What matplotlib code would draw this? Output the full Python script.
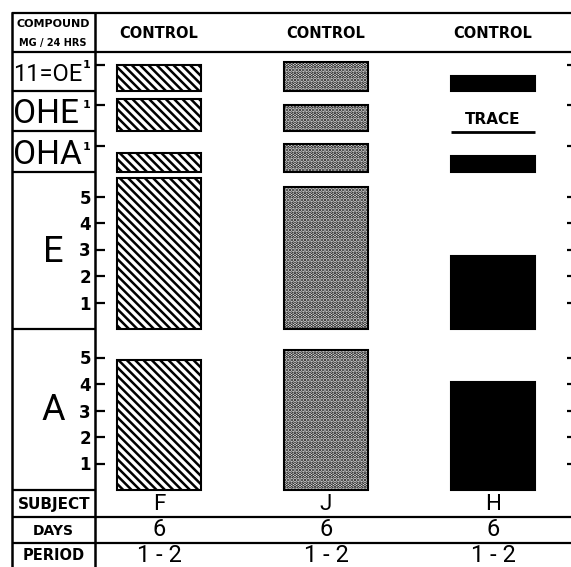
import matplotlib
matplotlib.use('Agg')
import matplotlib.pyplot as plt
import matplotlib.transforms as mtransforms

# columns
subjects = ['F', 'J', 'H']
groups = ['CONTROL', 'CONTROL', 'CONTROL']
days = ['6', '6', '6']
periods = ['1 - 2', '1 - 2', '1 - 2']

# mg / 24 hrs (None = trace)
compounds = ['11=OE', 'OHE', 'OHA', 'E', 'A']
oe11 = [1.0, 1.1, 0.55]
ohe = [1.2, 1.0, None]
oha = [0.7, 1.05, 0.6]
e_vals = [5.7, 5.35, 2.77]
a_vals = [4.9, 5.28, 4.08]
values = [oe11, ohe, oha, e_vals, a_vals]
ticks = [[1], [1], [1], [1, 2, 3, 4, 5], [1, 2, 3, 4, 5]]

plt.rcParams['hatch.linewidth'] = 1.8
BIG = ['Roboto', 'DejaVu Sans']

W, H = 571, 567
fig = plt.figure(figsize=(W / 100, H / 100), dpi=100)

# pixel layout of the table
x_left, x_lab, x_right = 12, 95, 571
row_px = [(52, 91), (91, 131), (131, 172), (172, 329), (329, 490)]
px_per_mg = 26.5
col0, col_step = 159, 167
bar_w = 0.505

bg = fig.add_axes([0, 0, 1, 1])
bg.set_xlim(0, W)
bg.set_ylim(H, 0)
bg.axis('off')

def hline(y, x0, x1):
    bg.plot([x0, x1], [y, y], color='black', lw=1.6, solid_capstyle='butt')

# frame
bg.plot([x_left, x_left], [13, H], color='black', lw=1.8)
bg.plot([x_lab, x_lab], [13, H], color='black', lw=1.8)
hline(13, x_left, x_right)
hline(52, x_left, x_right)
for top, bot in row_px:
    hline(bot, x_left, x_lab)
hline(517, x_left, x_right)
hline(543, x_left, x_right)

styles = [
    dict(facecolor='white', hatch='\\\\\\\\'),
    dict(facecolor='white', hatch='.....'),
    dict(facecolor='black', hatch=None),
]

xlim = (-(col0 - x_lab) / col_step, (x_right - col0) / col_step)
axes = []
for name, vals, tk, (top, bot) in zip(compounds, values, ticks, row_px):
    ax = fig.add_axes([x_lab / W, 1 - bot / H, (x_right - x_lab) / W, (bot - top) / H])
    ax.set_xlim(*xlim)
    ax.set_ylim(0, (bot - top) / px_per_mg)
    ax.patch.set_visible(False)
    for s in ax.spines.values():
        s.set_visible(False)
    for i, v in enumerate(vals):
        if v is None:
            ax.text(i, 0.15, 'TRACE', ha='center', va='bottom', fontsize=11, fontweight='bold')
            ax.hlines(-0.03, i - bar_w / 2, i + bar_w / 2, color='black', lw=2, clip_on=False)
            continue
        ax.bar(i, v, width=bar_w, edgecolor='black', linewidth=1.5, clip_on=False, **styles[i])
    ax.set_xticks([])
    ax.set_yticks(tk)
    small = len(tk) == 1
    ax.set_yticklabels([str(t) for t in tk], fontweight='bold', fontsize=8 if small else 12)
    ax.tick_params(axis='y', direction='in', length=7, width=1.6, pad=3, right=True)
    for t in ax.yaxis.get_major_ticks():
        t.tick2line.set_markersize(3)
    if small:
        t = ax.yaxis.get_major_ticks()[0]
        t.label1.set_y(tk[0] + 0.12)
    axes.append(ax)

# row labels
label_size = [17, 24, 24, 26, 26]
for k, (name, (top, bot)) in enumerate(zip(compounds, row_px)):
    if k < 3:
        bg.text(x_left + 1, (top + bot) / 2 + 3, name, ha='left', va='center',
                fontsize=label_size[k], family=BIG)
    else:
        bg.text(53, (top + bot) / 2 + 1, name, ha='center', va='center',
                fontsize=label_size[k], family=BIG)

# header and bottom rows
colx = mtransforms.blended_transform_factory(axes[0].transData, bg.transData)
for i, (g, s, d, p) in enumerate(zip(groups, subjects, days, periods)):
    bg.text(i, 33, g, transform=colx, ha='center', va='center', fontsize=10.5, fontweight='bold')
    bg.text(i, 505, s, transform=colx, ha='center', va='center', fontsize=16, family=BIG)
    bg.text(i, 530, d, transform=colx, ha='center', va='center', fontsize=17, family=BIG)
    bg.text(i, 555, p, transform=colx, ha='center', va='center', fontsize=17, family=BIG)

bg.text(53, 24, 'COMPOUND', ha='center', va='center', fontsize=8, fontweight='bold')
bg.text(53, 43, 'MG / 24 HRS', ha='center', va='center', fontsize=7, fontweight='bold')
bg.text(54, 505, 'SUBJECT', ha='center', va='center', fontsize=11, fontweight='bold')
bg.text(53, 531, 'DAYS', ha='center', va='center', fontsize=10, fontweight='bold')
bg.text(54, 556, 'PERIOD', ha='center', va='center', fontsize=10.5, fontweight='bold')

fig.savefig('out.png', dpi=100)
